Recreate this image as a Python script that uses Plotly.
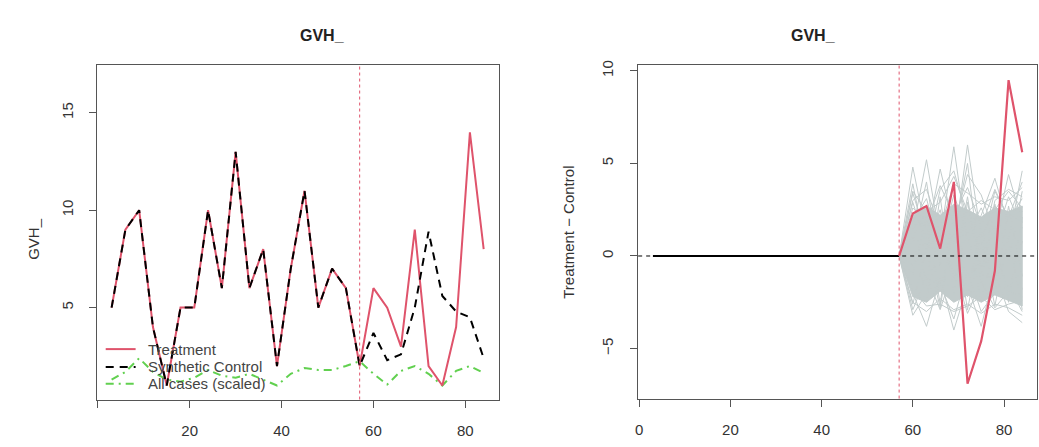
import plotly.graph_objects as go

# ---------------- data ----------------
time = [3, 6, 9, 12, 15, 18, 21, 24, 27, 30, 33, 36, 39, 42, 45, 48, 51, 54,
        57, 60, 63, 66, 69, 72, 75, 78, 81, 84]
treatment = [5, 9, 10, 4, 1, 5, 5, 10, 6, 13, 6, 8, 2, 7, 11, 5, 7, 6,
             2, 6, 5, 3, 9, 2, 1, 4, 14, 8]
synthetic = [5, 9, 10, 4, 1, 5, 5, 10, 6, 13, 6, 8, 2, 7, 11, 5, 7, 6,
             2, 3.7, 2.3, 2.6, 5.0, 8.9, 5.6, 4.8, 4.5, 2.4]
all_cases_scaled = [1.3, 1.7, 2.4, 1.7, 1.3, 1.2, 1.4, 1.8, 1.5, 1.4, 1.6, 1.3, 1.0, 1.6,
                    1.9, 1.8, 1.8, 2.0, 2.25, 1.6, 1.05, 1.75, 2.0, 1.6, 1.0, 1.75, 2.0, 1.65]
treat_start = 57

post_time = [57, 60, 63, 66, 69, 72, 75, 78, 81, 84]
placebo_upper = [0, 2.3, 2.7, 2.2, 2.8, 2.5, 2.1, 2.6, 2.4, 2.7]
placebo_lower = [0, -2.2, -2.5, -1.9, -2.5, -2.1, -2.5, -2.1, -2.4, -2.7]
placebo_lines = [
    [0, 4.8, 1.2, 2.2, 0.6, 6.0, 1.0, 2.4, 0.8, 4.6],
    [0, 1.4, 5.2, 0.9, 5.9, 0.7, 2.2, 4.2, 1.6, 2.4],
    [0, 3.4, 1.0, 4.7, 1.6, 4.4, 3.3, 1.2, 4.4, 1.8],
    [0, -2.0, -3.8, -1.2, -4.0, -1.6, -3.8, -0.9, -3.0, -3.6],
    [0, 3.9, 0.2, 3.6, 4.6, 2.0, 0.4, 3.5, 2.1, 4.0],
    [0, -2.9, -1.1, -2.9, -0.6, -3.1, -1.4, -2.8, -1.9, -2.2],
    [0, 2.2, -1.6, 3.2, -2.1, 2.9, -0.6, 1.6, -2.5, 2.1],
    [0, -1.0, 2.1, -2.6, 2.6, -1.9, 1.5, -2.1, 2.7, -1.1],
    [0, 0.8, 4.0, -0.5, 1.2, 5.0, -1.0, 3.0, 3.6, 3.2],
    [0, -3.2, -2.0, -1.5, -3.4, -0.8, -3.0, -2.0, -1.6, -3.0],
    [0, 3.0, 3.6, 1.5, 3.9, 3.4, 2.8, 3.2, 3.0, 3.7],
    [0, 2.6, 1.8, 3.8, 2.2, 3.7, 1.6, 3.6, 2.0, 3.1],
    [0, 3.5, 2.4, 2.9, 4.3, 2.4, 3.0, 2.5, 3.5, 2.6],
    [0, -2.5, -3.0, -2.3, -2.9, -2.6, -3.1, -2.6, -2.8, -3.2],
    [0, -1.8, -2.7, -2.6, -3.0, -2.7, -2.2, -2.9, -2.6, -2.4],
    [0, 1.9, 3.1, 0.4, 3.3, 1.2, 2.6, 0.9, 3.2, 1.5],
    [0, -0.5, 1.0, -1.6, 0.3, -2.2, 0.8, -1.4, 0.5, -1.8],
    [0, 2.9, 0.6, 2.5, -0.8, 3.2, -1.5, 2.8, -0.4, 3.5],
    [0, -2.6, 0.4, -2.8, 1.8, -2.9, 0.9, -2.7, 1.1, -2.9],
    [0, 1.1, -2.3, 1.9, -1.2, 1.4, -2.4, 0.6, -2.2, 0.8],
]

x_ticks = [0, 20, 40, 60, 80]
left_x_labels = ["", "20", "40", "60", "80"]
right_x_labels = ["0", "20", "40", "60", "80"]
left_y_ticks = [5, 10, 15]
right_y_ticks = [-5, 0, 5, 10]
legend_labels = ["Treatment", "Synthetic Control", "All cases (scaled)"]

# ---------------- styling ----------------
RED = "#DF536B"
GREEN = "#61D04F"
GRAY = "#C2CBCB"
AXC = "#555555"
FONT = "Liberation Sans, Arial, sans-serif"
W, H = 1039, 447
SYN_DASH = "8px,6px"
ALL_DASH = "8px,5px,2px,5px"

gap = [t - s for t, s in zip(treatment, synthetic)]
pre_idx = [i for i, t in enumerate(time) if t <= treat_start]
post_idx = [i for i, t in enumerate(time) if t >= treat_start]

fig = go.Figure()

# ---- left panel ----
fig.add_trace(go.Scatter(x=time, y=all_cases_scaled, mode="lines", name=legend_labels[2],
                         line=dict(color=GREEN, width=2, dash=ALL_DASH),
                         xaxis="x", yaxis="y", showlegend=False))
fig.add_trace(go.Scatter(x=time, y=treatment, mode="lines", name=legend_labels[0],
                         line=dict(color=RED, width=2), xaxis="x", yaxis="y", showlegend=False))
fig.add_trace(go.Scatter(x=time, y=synthetic, mode="lines", name=legend_labels[1],
                         line=dict(color="black", width=2, dash=SYN_DASH),
                         xaxis="x", yaxis="y", showlegend=False))

# ---- right panel ----
band_x = post_time + post_time[::-1]
band_y = placebo_upper + placebo_lower[::-1]
fig.add_trace(go.Scatter(x=band_x, y=band_y, mode="lines", fill="toself", fillcolor=GRAY,
                         line=dict(color=GRAY, width=1), showlegend=False,
                         xaxis="x2", yaxis="y2", hoverinfo="skip"))
for pl in placebo_lines:
    fig.add_trace(go.Scatter(x=post_time, y=pl, mode="lines", line=dict(color=GRAY, width=1),
                             showlegend=False, xaxis="x2", yaxis="y2", hoverinfo="skip"))
fig.add_trace(go.Scatter(x=[time[i] for i in pre_idx], y=[gap[i] for i in pre_idx], mode="lines",
                         line=dict(color="black", width=2.2), showlegend=False,
                         xaxis="x2", yaxis="y2"))
fig.add_trace(go.Scatter(x=[time[i] for i in post_idx], y=[gap[i] for i in post_idx], mode="lines",
                         line=dict(color=RED, width=2.2), showlegend=False,
                         xaxis="x2", yaxis="y2"))

# reference lines
fig.add_shape(type="line", xref="x", yref="y domain", x0=treat_start, x1=treat_start, y0=0, y1=1,
              line=dict(color=RED, width=1, dash="3px,3px"))
fig.add_shape(type="line", xref="x2", yref="y2 domain", x0=treat_start, x1=treat_start, y0=0, y1=1,
              line=dict(color=RED, width=1, dash="3px,3px"))
fig.add_shape(type="line", xref="x2 domain", yref="y2", x0=0, x1=1, y0=0, y1=0,
              line=dict(color="black", width=1, dash="4px,4px"))

axis_common = dict(showline=True, mirror=True, linecolor=AXC, linewidth=1, ticks="outside",
                   ticklen=7, tickcolor=AXC, tickwidth=1, showgrid=False, zeroline=False,
                   tickfont=dict(family=FONT, size=15, color="#333333"))

def px(v):
    return v / W

def py(v):
    return 1 - v / H

# ---- legend (bottom-left of left panel, no box, like R legend(bty="n")) ----
legend_styles = [dict(color=RED, width=2), dict(color="black", width=2, dash=SYN_DASH),
                 dict(color=GREEN, width=2, dash=ALL_DASH)]
legend_rows = [348, 366, 383]
for lab, sty, row in zip(legend_labels, legend_styles, legend_rows):
    fig.add_shape(type="line", xref="paper", yref="paper", x0=px(103), x1=px(133),
                  y0=py(row), y1=py(row), line=sty)
    fig.add_annotation(x=px(143), y=py(row), xref="paper", yref="paper", text=lab,
                       xanchor="left", yanchor="middle", showarrow=False,
                       font=dict(family=FONT, size=15, color="#444444"))

fig.update_layout(
    width=W, height=H,
    margin=dict(l=0, r=0, t=0, b=0),
    plot_bgcolor="white", paper_bgcolor="white",
    font=dict(family=FONT, color="#333333"),
    xaxis=dict(domain=[px(94), px(497)], range=[-0.24, 87.24], tickvals=x_ticks,
               ticktext=left_x_labels, anchor="y", ticklabelstandoff=10, **axis_common),
    yaxis=dict(domain=[py(399), py(61)], range=[0.28, 17.44], tickvals=left_y_ticks,
               tickangle=-90, anchor="x", ticklabelstandoff=10, **axis_common),
    xaxis2=dict(domain=[px(637), px(1037)], range=[-0.24, 87.24], tickvals=x_ticks,
                ticktext=right_x_labels, anchor="y2", ticklabelstandoff=10, **axis_common),
    yaxis2=dict(domain=[py(398), py(61)], range=[-7.7, 10.3], tickvals=right_y_ticks,
                tickangle=-90, anchor="x2", ticklabelstandoff=11, **axis_common),
    showlegend=False,
)

fig.add_annotation(x=px(295.5), y=py(20), xref="paper", yref="paper", text="<b>GVH_</b>",
                   showarrow=False, font=dict(family=FONT, size=16, color="#222222"))
fig.add_annotation(x=px(837), y=py(20), xref="paper", yref="paper", text="<b>GVH_</b>",
                   showarrow=False, font=dict(family=FONT, size=16, color="#222222"))
fig.add_annotation(x=px(20), y=py(236), xref="paper", yref="paper", text="GVH_", textangle=-90,
                   showarrow=False, font=dict(family=FONT, size=15, color="#333333"))
fig.add_annotation(x=px(567), y=py(230), xref="paper", yref="paper", text="Treatment − Control",
                   textangle=-90, showarrow=False, font=dict(family=FONT, size=15, color="#333333"))

fig.write_html("out.html")
